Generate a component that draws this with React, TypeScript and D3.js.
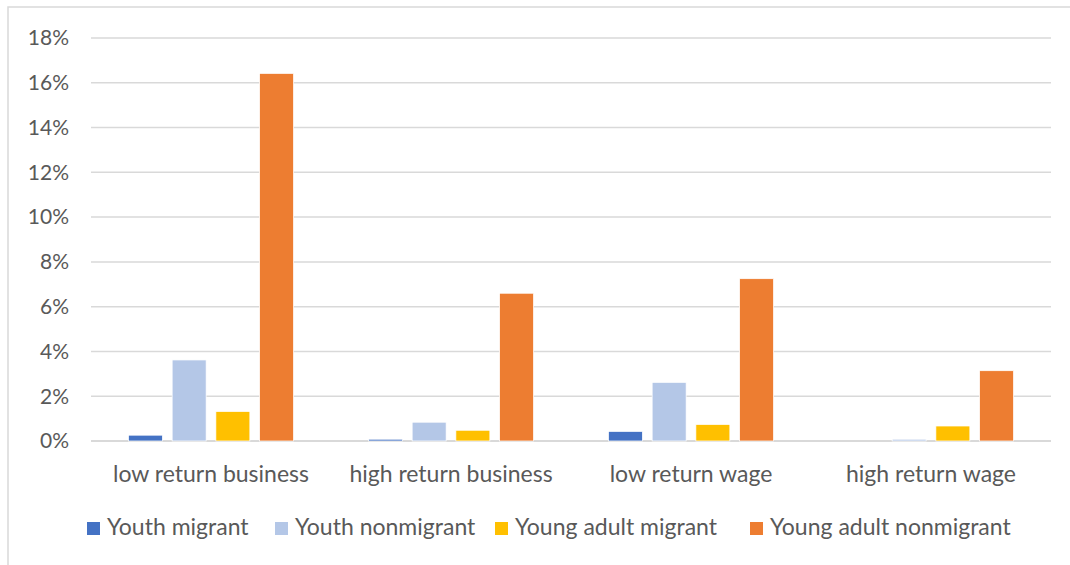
import React from "react";
import * as d3 from "d3";

const categories = ["low return business", "high return business", "low return wage", "high return wage"];
const seriesNames = ["Youth migrant", "Youth nonmigrant", "Young adult migrant", "Young adult nonmigrant"];
const youthMigrant = [0.26, 0.08, 0.43, 0.0];
const youthNonmigrant = [3.62, 0.84, 2.62, 0.08];
const youngAdultMigrant = [1.32, 0.48, 0.74, 0.67];
const youngAdultNonmigrant = [16.42, 6.6, 7.25, 3.14];
const yTicks = [0, 2, 4, 6, 8, 10, 12, 14, 16, 18];
const colors = ["#4472C4", "#B4C7E7", "#FFC000", "#ED7D31"];

const seriesValues = [youthMigrant, youthNonmigrant, youngAdultMigrant, youngAdultNonmigrant];

export default function App() {
  const W = 1070, H = 565;
  const left = 91, right = 1051, top = 38, bottom = 441;
  const x = d3.scaleBand<string>().domain(categories).range([left, right]).paddingInner(0).paddingOuter(0);
  const y = d3.scaleLinear().domain([0, 18]).range([bottom, top]);
  const inner = d3.scaleBand<string>().domain(seriesNames).range([0, x.bandwidth()]).paddingInner(0.222).paddingOuter(0.856);
  const font = "Lato, 'Open Sans', sans-serif";
  const textColor = "#595959";
  const legendX = [87, 275, 495, 750];
  return (
    <svg width={W} height={H} style={{ position: "absolute", left: 0, top: 0, background: "#fff" }} fontFamily={font}>
      <rect x={0} y={0} width={W} height={H} fill="#fff" />
      <rect x={8} y={7} width={1200} height={700} fill="none" stroke="#D9D9D9" strokeWidth={1.5} />
      {yTicks.map((t) => (
        <g key={t}>
          <line x1={left} x2={right} y1={y(t)} y2={y(t)} stroke="#D9D9D9" strokeWidth={t === 0 ? 2 : 1.5} />
          <text x={69} y={y(t)} dy="0.35em" textAnchor="end" fontSize={21} fill={textColor}>{t}%</text>
        </g>
      ))}
      {categories.map((c, ci) => (
        <g key={c}>
          {seriesNames.map((s, si) => {
            const v = seriesValues[si][ci];
            if (v <= 0) return null;
            const bx = (x(c) as number) + (inner(s) as number);
            return (
              <rect key={s} x={bx} y={y(v)} width={inner.bandwidth()} height={y(0) - y(v)} fill={colors[si]} stroke="#fff" strokeWidth={0.75} />
            );
          })}
          <text x={(x(c) as number) + x.bandwidth() / 2} y={482} textAnchor="middle" fontSize={23} fill={textColor}>{c}</text>
        </g>
      ))}
      {seriesNames.map((s, i) => (
        <g key={s}>
          <rect x={legendX[i]} y={522} width={13} height={13} fill={colors[i]} />
          <text x={legendX[i] + 20} y={535} fontSize={23} fill={textColor}>{s}</text>
        </g>
      ))}
    </svg>
  );
}
